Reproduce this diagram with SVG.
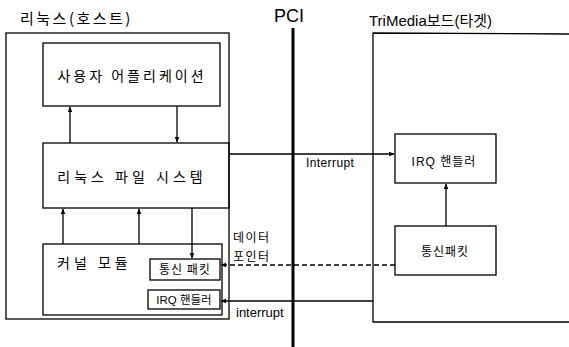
<svg xmlns="http://www.w3.org/2000/svg" width="569" height="347" viewBox="0 0 569 347">
<defs>
<marker id="ah" viewBox="0 0 10 10" refX="9" refY="5" markerWidth="6" markerHeight="6" orient="auto" markerUnits="userSpaceOnUse"><path d="M0,1 L10,5 L0,9 z" fill="#000"/></marker>
</defs>
<style>
.box{fill:none;stroke:#000;stroke-width:1.3}
.ln{fill:none;stroke:#000;stroke-width:1.3}
.t{font-family:"Noto Sans CJK KR","Liberation Sans",sans-serif;fill:#000}
.l{font-family:"Liberation Sans","Noto Sans CJK KR",sans-serif;fill:#000}
</style>
<rect width="569" height="347" fill="#fff"/>
<g id="host">
<rect class="box" x="6" y="33" width="223" height="286"/>
<text class="t" x="20" y="24" font-size="15" letter-spacing="2.5">리눅스(호스트)</text>
</g>
<g id="target">
<path class="box" d="M570,34 L373,33 L373,322 L570,322"/>
<text class="l" x="369" y="26" font-size="15">TriMedia보드(타겟)</text>
</g>
<g id="pci">
<line x1="293" y1="28" x2="293" y2="347" stroke="#000" stroke-width="3"/>
<text class="l" x="274" y="22" font-size="18">PCI</text>
</g>
<g id="user-app">
<rect class="box" x="43" y="43" width="177" height="63"/>
<text class="t" x="132" y="81" font-size="14" text-anchor="middle" letter-spacing="3">사용자 어플리케이션</text>
</g>
<g id="linux-fs">
<rect class="box" x="43" y="143" width="186" height="65"/>
<text class="t" x="132" y="182" font-size="14" text-anchor="middle" letter-spacing="4">리눅스 파일 시스템</text>
</g>
<g id="kernel">
<rect class="box" x="43" y="244" width="179" height="71"/>
<text class="t" x="57" y="268" font-size="14" letter-spacing="4">커널 모듈</text>
</g>
<g id="host-packet">
<rect class="box" x="150" y="259" width="70" height="21"/>
<text class="t" x="185" y="274" font-size="12" text-anchor="middle" letter-spacing="1">통신 패킷</text>
</g>
<g id="host-irq">
<rect class="box" x="148" y="290" width="72" height="19"/>
<text class="l" x="184" y="304" font-size="11.5" text-anchor="middle">IRQ 핸들러</text>
</g>
<g id="target-irq">
<rect class="box" x="395" y="134" width="101" height="49"/>
<text class="l" x="444" y="166" font-size="12" text-anchor="middle" letter-spacing="1">IRQ 핸들러</text>
</g>
<g id="target-packet">
<rect class="box" x="395" y="226" width="101" height="49"/>
<text class="t" x="445" y="256" font-size="12" text-anchor="middle" letter-spacing="1">통신패킷</text>
</g>
<g id="connectors">
<line class="ln" x1="70" y1="143" x2="70" y2="107" marker-end="url(#ah)"/>
<line class="ln" x1="177" y1="106" x2="177" y2="142" marker-end="url(#ah)"/>
<line class="ln" x1="63" y1="244" x2="63" y2="209" marker-end="url(#ah)"/>
<line class="ln" x1="139" y1="244" x2="139" y2="209" marker-end="url(#ah)"/>
<line class="ln" x1="192" y1="208" x2="192" y2="258" marker-end="url(#ah)"/>
<line class="ln" x1="229" y1="154" x2="394" y2="154" marker-end="url(#ah)"/>
<line class="ln" x1="446" y1="226" x2="446" y2="184" marker-end="url(#ah)"/>
<line class="ln" x1="395" y1="265" x2="221" y2="265" stroke-dasharray="5,3" marker-end="url(#ah)"/>
<line class="ln" x1="373" y1="301" x2="221" y2="301" marker-end="url(#ah)"/>
<text class="l" x="306" y="167" font-size="12" letter-spacing="0.4">Interrupt</text>
<text class="l" x="236" y="317" font-size="13">interrupt</text>
<text class="t" x="233" y="242" font-size="12" letter-spacing="1.5">데이터</text>
<text class="t" x="233" y="261" font-size="12" letter-spacing="1.5">포인터</text>
</g>
</svg>
